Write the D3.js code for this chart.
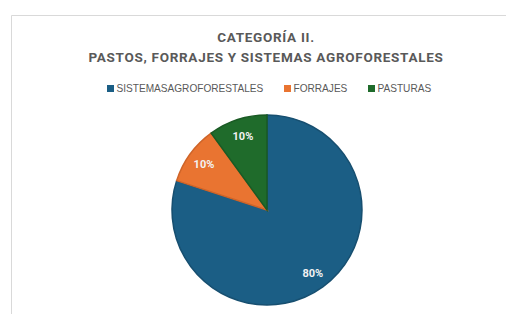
<!DOCTYPE html>
<html lang='es'>
  <head>
    <meta charset='utf-8'>
    <title>Categoría II</title>
    <script src='https://cdn.jsdelivr.net/npm/d3@7'></script>
    <style>
      body { margin: 0; background: #fff; }
    </style>
  </head>
  <body>
    <script>
      var categories = ['SISTEMASAGROFORESTALES', 'FORRAJES', 'PASTURAS'];
      var values = [80, 10, 10];
      var colors = ['#1b5e85', '#e97431', '#1f6b2b'];
      var strokes = ['#174f70', '#cf6428', '#1a5a24'];
      var titleLines = ['CATEGORÍA II.', 'PASTOS, FORRAJES Y SISTEMAS AGROFORESTALES'];

      var w = 506, h = 314;
      var cx = 267, cy = 210, r = 95;

      var svg = d3.select('body').append('svg')
                  .attr('width', w)
                  .attr('height', h);

      // chart frame
      svg.append('path')
         .attr('d', 'M11.5,' + h + 'V15.5H' + w)
         .attr('fill', 'none')
         .attr('stroke', '#d9d9d9');

      svg.selectAll('text.title')
         .data(titleLines)
         .enter()
         .append('text')
         .attr('class', 'title')
         .attr('x', 266)
         .attr('y', function(d, i){ return 42 + i * 20; })
         .attr('text-anchor', 'middle')
         .attr('font-family', 'Roboto, sans-serif')
         .attr('font-weight', 'bold')
         .attr('font-size', '13.5px')
         .attr('letter-spacing', '0.7px')
         .attr('fill', '#595959')
         .text(function(d){ return d; });

      // legend
      var legendX = [107, 284, 368];
      var lg = svg.selectAll('g.leg')
                  .data(categories)
                  .enter()
                  .append('g')
                  .attr('class', 'leg')
                  .attr('transform', function(d, i){ return 'translate(' + legendX[i] + ',88.5)'; });
      lg.append('rect')
        .attr('x', 0).attr('y', -3.5)
        .attr('width', 7).attr('height', 7)
        .attr('fill', function(d, i){ return colors[i]; });
      lg.append('text')
        .attr('x', 9.5)
        .attr('y', 3.5)
        .attr('font-family', 'Liberation Sans, Arial, sans-serif')
        .attr('font-size', '10.1px')
        .attr('fill', '#595959')
        .text(function(d){ return d; });

      var pie = d3.pie().sort(null).value(function(d){ return d; });
      var arc = d3.arc().innerRadius(0).outerRadius(r);
      var arcs = pie(values);

      var g = svg.append('g').attr('transform', 'translate(' + cx + ',' + cy + ')');
      g.selectAll('path')
       .data(arcs)
       .enter()
       .append('path')
       .attr('d', arc)
       .attr('fill', function(d, i){ return colors[i]; })
       .attr('stroke', function(d, i){ return strokes[i]; })
       .attr('stroke-width', 1.5);

      var labelArc = d3.arc().innerRadius(r * 0.82).outerRadius(r * 0.82);
      var total = d3.sum(values);
      g.selectAll('text')
       .data(arcs)
       .enter()
       .append('text')
       .attr('transform', function(d){ return 'translate(' + labelArc.centroid(d) + ')'; })
       .attr('dy', '0.35em')
       .attr('text-anchor', 'middle')
       .attr('font-family', 'Roboto, sans-serif')
       .attr('font-weight', 'bold')
       .attr('font-size', '11px')
       .attr('fill', '#f2f2f2')
       .text(function(d){ return Math.round(d.value / total * 100) + '%'; });
    </script>
  </body>
</html>
